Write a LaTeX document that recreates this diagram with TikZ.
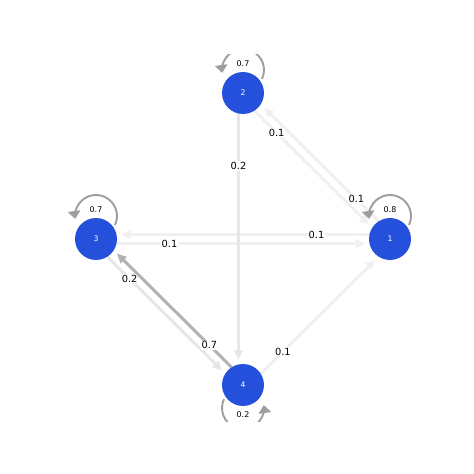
\documentclass[tikz,border=0pt]{standalone}
\usepackage{fontspec}
\setmainfont{DejaVu Sans}
\usetikzlibrary{arrows.meta, calc, backgrounds}
\definecolor{stateblue}{RGB}{36, 80, 220}
\definecolor{faintgray}{RGB}{240, 240, 240}
\definecolor{palegray}{RGB}{231, 231, 231}
\definecolor{darkgray}{RGB}{178, 178, 178}
\definecolor{loopgray}{RGB}{158, 158, 158}

\tikzset{
  state/.style={circle, fill=stateblue, minimum size=0.84cm, inner sep=0pt,
    text=white, font=\fontsize{4.4}{5}\selectfont},
  trans/.style={line width=1.7pt, -{Triangle[length=5.5pt, width=4.8pt]},
    shorten <=0.41cm, shorten >=0.5cm},
  elabel/.style={fill=white, inner sep=0.6pt, text=black,
    font=\fontsize{5.6}{6}\selectfont},
  selfloop/.style={loopgray, line width=1.1pt, -{Triangle[length=4.5pt, width=7pt]}},
  llabel/.style={inner sep=0pt, font=\fontsize{4.5}{5}\selectfont},
}

% u -> v, offset to the right of the direction of travel
\newcommand\markovedge[4]{%
  \draw[trans, #3] ($(#1.center)!0.09cm!-90:(#2.center)$)
    -- node[elabel, pos=0.25] {#4} ($(#2.center)!0.09cm!90:(#1.center)$);
}

\begin{document}
\begin{tikzpicture}[x=0.02cm, y=0.02cm]
  \useasboundingbox (0,0) rectangle (474,474);

  % Zustaende
  \node[state] (s1) at (390,235) {1};
  \node[state] (s2) at (243,381) {2};
  \node[state] (s3) at (96,235) {3};
  \node[state] (s4) at (243,89) {4};

  \begin{scope}[on background layer]
    % Uebergaenge
    \markovedge{s1}{s2}{faintgray}{0.1}
    \markovedge{s2}{s1}{faintgray}{0.1}
    \markovedge{s1}{s3}{faintgray}{0.1}
    \markovedge{s3}{s1}{faintgray}{0.1}
    \markovedge{s2}{s4}{palegray}{0.2}
    \markovedge{s3}{s4}{palegray}{0.2}
    \markovedge{s4}{s1}{faintgray}{0.1}
    \markovedge{s4}{s3}{darkgray}{0.7}

    % Schleifen (am Achsenrand abgeschnitten)
    \begin{scope}
      \clip (0,52) rectangle (474,419);
      \draw[selfloop] ($(s1.center)+(0,23)+(-25:0.42cm)$) arc[start angle=-25, end angle=188, radius=0.42cm];
      \draw[selfloop] ($(s2.center)+(0,23)+(-25:0.42cm)$) arc[start angle=-25, end angle=188, radius=0.42cm];
      \draw[selfloop] ($(s3.center)+(0,23)+(-25:0.42cm)$) arc[start angle=-25, end angle=188, radius=0.42cm];
      \draw[selfloop] ($(s4.center)+(0,-23)+(155:0.42cm)$) arc[start angle=155, end angle=368, radius=0.42cm];
    \end{scope}
  \end{scope}

  \node[llabel] at ($(s1.center)+(0,29)$) {0.8};
  \node[llabel] at ($(s2.center)+(0,29)$) {0.7};
  \node[llabel] at ($(s3.center)+(0,29)$) {0.7};
  \node[llabel] at ($(s4.center)+(0,-30)$) {0.2};
\end{tikzpicture}
\end{document}
